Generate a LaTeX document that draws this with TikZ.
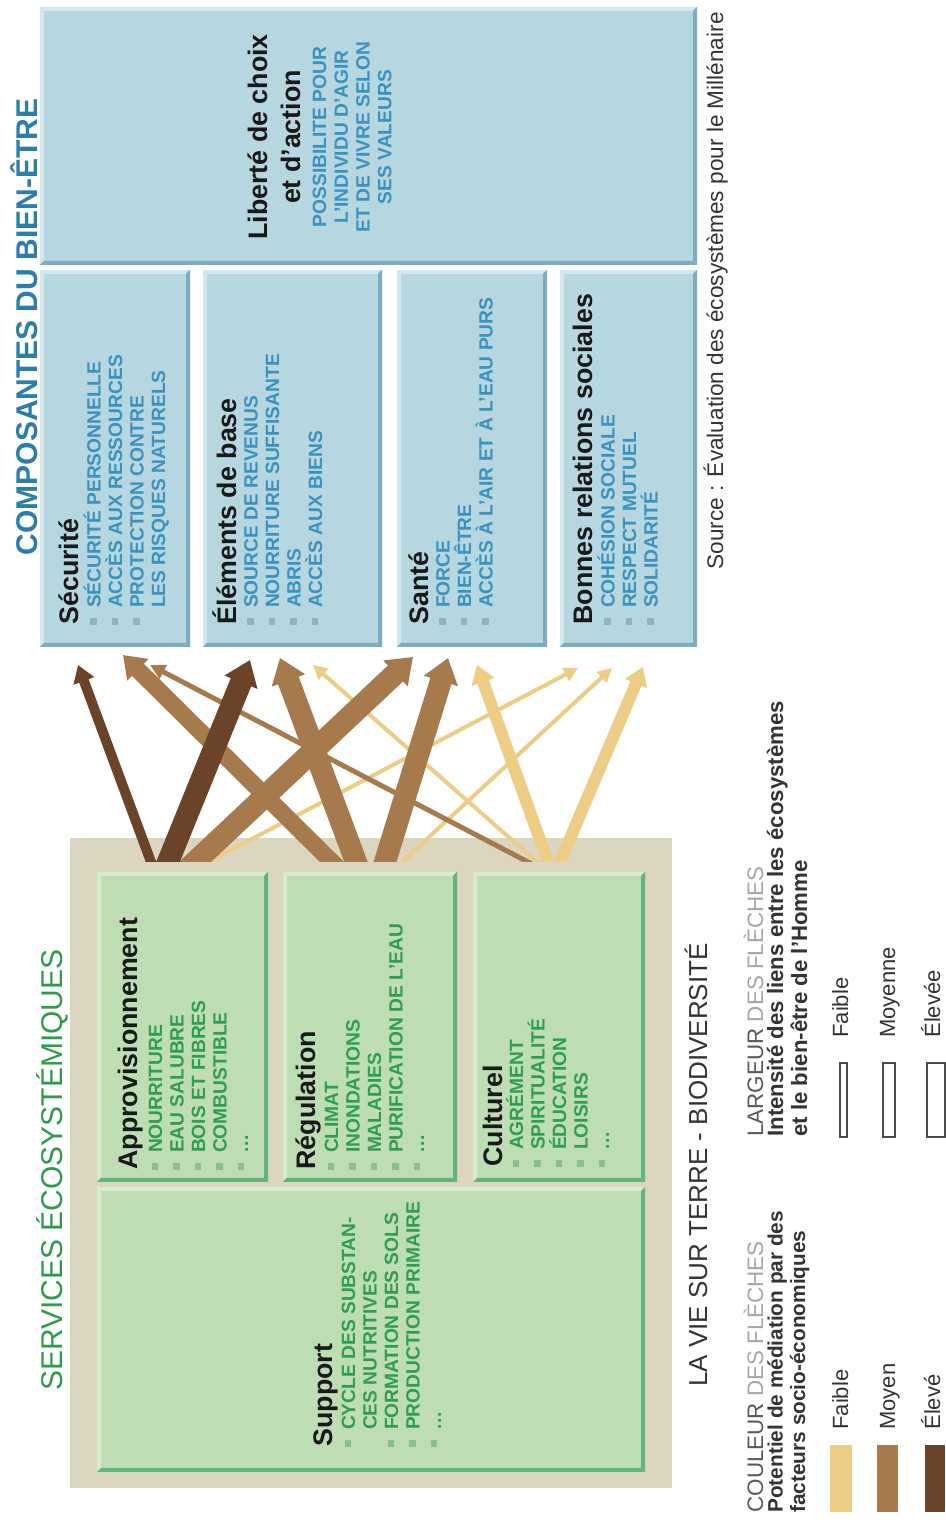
\documentclass[tikz,border=0pt]{standalone}
\usepackage{fontspec}
\setmainfont{Liberation Sans}
\usetikzlibrary{arrows.meta}

\definecolor{bluefill}{HTML}{B6D6E0}
\definecolor{bluelight}{HTML}{D3E7ED}
\definecolor{bluedark}{HTML}{7DACC2}
\definecolor{bluetext}{HTML}{3A92BE}
\definecolor{bluetitle}{HTML}{2B7DAC}
\definecolor{bluebullet}{HTML}{8DB4C6}
\definecolor{greenfill}{HTML}{BEDDB5}
\definecolor{greenlight}{HTML}{D5ECCE}
\definecolor{greendark}{HTML}{62B47F}
\definecolor{greentext}{HTML}{2F9E4F}
\definecolor{greentitle}{HTML}{2E9A4A}
\definecolor{greenbullet}{HTML}{8CBF8E}
\definecolor{beige}{HTML}{DCD6C0}
\definecolor{arrlight}{HTML}{EDCD86}
\definecolor{arrmed}{HTML}{A67A4C}
\definecolor{arrdark}{HTML}{6A4328}
\definecolor{legtext}{HTML}{333333}

% bullets for the item lists
\newcommand\bb{{\color{bluebullet}\raisebox{1.9pt}{\rule{3.3pt}{3.3pt}}}\hspace{5pt}}
\newcommand\gb{{\color{greenbullet}\raisebox{1.9pt}{\rule{3.3pt}{3.3pt}}}\hspace{5pt}}
\newcommand\nb{\hspace{8.3pt}}
\newcommand\suite{.\kern0.4pt.\kern0.4pt.}

\tikzset{
  panel/.style={draw=none, inner sep=0pt, outer sep=0pt},
  ttl/.style={font=\fontsize{13.4}{15}\selectfont\bfseries, text=black!90, inner sep=0pt, anchor=base west},
  bitem/.style={font=\fontsize{9.6}{11}\selectfont\bfseries, text=bluetext, inner sep=0pt, anchor=base west},
  gitem/.style={font=\fontsize{9.6}{11}\selectfont\bfseries, text=greentext, inner sep=0pt, anchor=base west},
  bigtitle/.style={font=\fontsize{15}{17}\selectfont, inner sep=0pt, anchor=base},
  leghead/.style={font=\fontsize{11.2}{13}\selectfont, text=black!65, inner sep=0pt, anchor=base west},
  legsubl/.style={font=\fontsize{10.4}{12}\selectfont\bfseries, text=legtext, inner sep=0pt, anchor=base west},
  legsubr/.style={font=\fontsize{11.1}{13}\selectfont\bfseries, text=legtext, inner sep=0pt, anchor=base west},
  leglab/.style={font=\fontsize{11}{13}\selectfont, text=legtext, inner sep=0pt, anchor=base west},
  wthin/.style={line width=2pt, shorten <=-8pt, -{Triangle[width=7pt,length=7pt]}},
  wfine/.style={line width=2.5pt, shorten <=-8pt, -{Triangle[width=7.5pt,length=7.5pt]}},
  wmid/.style={line width=5pt, shorten <=-8pt, -{Triangle[width=10.5pt,length=8.5pt]}},
  wmidl/.style={line width=6pt, shorten <=-8pt, -{Triangle[width=11.5pt,length=9pt]}},
  wbig/.style={line width=8.5pt, shorten <=-8pt, -{Triangle[width=14.5pt,length=10.5pt]}},
  wwide/.style={line width=11pt, shorten <=-8pt, -{Triangle[width=17pt,length=12pt]}}
}

% panel with bevelled edges: name, fill, light edge, dark edge, x1, y1, x2, y2
\newcommand\panel[8]{%
  \node[panel, fill=#2, minimum width={(#7-(#5))*0.5pt}, minimum height={(#8-(#6))*0.5pt}] (#1) at ({(#5+#7)/2},{(#6+#8)/2}) {};
  \fill[#3] (#5,#8) -- (#7,#8) -- ({#7-4},{#8-4}) -- ({#5+4},{#8-4}) -- cycle;
  \fill[#3] (#7,#8) -- (#7,#6) -- ({#7-4},{#6+4}) -- ({#7-4},{#8-4}) -- cycle;
  \fill[#4] (#5,#6) -- (#7,#6) -- ({#7-4},{#6+4}) -- ({#5+4},{#6+4}) -- cycle;
  \fill[#4] (#5,#6) -- (#5,#8) -- ({#5+4},{#8-4}) -- ({#5+4},{#6+4}) -- cycle;
}

% item list: name prefix, style, x, first baseline depth, items
\newcommand\itemlist[5]{%
  \foreach \txt [count=\i] in {#5}{
    \node[#2] (#1-\i) at (#3,{-(#4+(\i-1)*21.5)}) {\txt};
  }%
}

\begin{document}
\begin{tikzpicture}[x=0.5pt,y=0.5pt]
\begin{scope}[rotate=90, transform shape]
\useasboundingbox (0,-946) rectangle (1538,0);
\fill[white] (0,-946) rectangle (1538,0);

% ---------- titles ----------
\node[bigtitle, text=greentitle] (svctitle) at (368,-62) {SERVICES ÉCOSYSTÉMIQUES};
\node[bigtitle, text=bluetitle, font=\fontsize{15}{17}\selectfont\bfseries] (wbtitle) at (1211,-37) {COMPOSANTES DU BIEN-ÊTRE};

% ---------- ecosystem services ----------
\node[panel, fill=beige, minimum width={650*0.5pt}, minimum height={602*0.5pt}] (life) at (375,-371) {};
\panel{appr}{greenfill}{greenlight}{greendark}{356}{-268}{666}{-97}
\panel{regu}{greenfill}{greenlight}{greendark}{356}{-457}{666}{-283}
\panel{cult}{greenfill}{greenlight}{greendark}{356}{-645}{666}{-473}
\panel{supp}{greenfill}{greenlight}{greendark}{66}{-645}{351}{-97}

\node[ttl] (apprT) at (368,-137) {Approvisionnement};
\itemlist{appr}{gitem}{368}{162}{\gb NOURRITURE, \gb EAU SALUBRE, \gb BOIS ET FIBRES, \gb COMBUSTIBLE, \gb\suite}
\node[ttl] (reguT) at (368,-315) {Régulation};
\itemlist{regu}{gitem}{368}{338}{\gb CLIMAT, \gb INONDATIONS, \gb MALADIES, \gb PURIFICATION DE L'EAU, \gb\suite}
\node[ttl] (cultT) at (371,-502) {Culturel};
\itemlist{cult}{gitem}{371}{523}{\gb AGRÉMENT, \gb SPIRITUALITÉ, \gb ÉDUCATION, \gb LOISIRS, \gb\suite}
\node[ttl] (suppT) at (91,-332) {Support};
\itemlist{supp}{gitem}{91}{355}{\gb CYCLE DES SUBSTAN-, \nb CES NUTRITIVES, \gb FORMATION DES SOLS, \gb PRODUCTION PRIMAIRE, \gb\suite}

% ---------- constituents of well-being ----------
\panel{libe}{bluefill}{bluelight}{bluedark}{1273}{-697}{1531}{-40}
\panel{secu}{bluefill}{bluelight}{bluedark}{891}{-190}{1268}{-40}
\panel{elem}{bluefill}{bluelight}{bluedark}{891}{-382}{1268}{-203}
\panel{sant}{bluefill}{bluelight}{bluedark}{891}{-547}{1268}{-397}
\panel{bonn}{bluefill}{bluelight}{bluedark}{891}{-697}{1268}{-560}

\node[ttl] (secuT) at (913,-78) {Sécurité};
\itemlist{secu}{bitem}{913}{100.5}{\bb SÉCURITÉ PERSONNELLE, \bb ACCÈS AUX RESSOURCES, \bb PROTECTION CONTRE, \nb LES RISQUES NATURELS}
\node[ttl] (elemT) at (913,-236) {Éléments de base};
\itemlist{elem}{bitem}{913}{257.5}{\bb SOURCE DE REVENUS, \bb NOURRITURE SUFFISANTE, \bb ABRIS, \bb ACCÈS AUX BIENS}
\node[ttl] (santT) at (913,-428) {Santé};
\itemlist{sant}{bitem}{913}{449.5}{\bb FORCE, \bb BIEN-ÊTRE, \bb ACCÈS À L'AIR ET À L'EAU PURS}
\node[ttl] (bonnT) at (913,-592) {Bonnes relations sociales};
\itemlist{bonn}{bitem}{913}{614.5}{\bb COHÉSION SOCIALE, \bb RESPECT MUTUEL, \bb SOLIDARITÉ}

\node[ttl, anchor=base] (libeT1) at (1401,-267) {Liberté de choix};
\node[ttl, anchor=base] (libeT2) at (1401,-300) {et d'action};
\foreach \txt [count=\i] in {POSSIBILITE POUR, L'INDIVIDU D'AGIR, ET DE VIVRE SELON, SES VALEURS}{
  \node[bitem, anchor=base] (libe-\i) at (1401,{-(326+(\i-1)*21.8)}) {\txt};
}

% ---------- links ----------
\coordinate (sA1) at (676,-151);  \coordinate (tA1) at (873,-78);
\coordinate (sR1) at (676,-332);  \coordinate (tR1) at (883,-123);
\coordinate (sC1) at (676,-528);  \coordinate (tC1) at (873,-150);
\coordinate (sA2) at (676,-168);  \coordinate (tA2) at (878,-250);
\coordinate (sR2) at (676,-356);  \coordinate (tR2) at (880,-280);
\coordinate (sC2) at (676,-537);  \coordinate (tC2) at (873,-313);
\coordinate (sA3) at (676,-195);  \coordinate (tA3) at (881,-413);
\coordinate (sR3) at (676,-385);  \coordinate (tR3) at (880,-448);
\coordinate (sC3) at (676,-548);  \coordinate (tC3) at (873,-477);
\coordinate (sA4) at (676,-208);  \coordinate (tA4) at (870,-578);
\coordinate (sR4) at (676,-402);  \coordinate (tR4) at (870,-612);
\coordinate (sC4) at (676,-560);  \coordinate (tC4) at (871,-643);

\begin{scope}
  \clip (676,-946) rectangle (1538,0);
  % low mediation
  \draw[arrlight, wthin] (sA4) -- (tA4);
  \draw[arrlight, wthin] (sR4) -- (tR4);
  \draw[arrlight, wthin] (sC2) -- (tC2);
  \draw[arrlight, wmidl] (sC3) -- (tC3);
  \draw[arrlight, wmidl] (sC4) -- (tC4);
  % medium mediation
  \draw[arrmed, wfine] (sC1) -- (tC1);
  \draw[arrmed, wbig] (sR1) -- (tR1);
  \draw[arrmed, wwide] (sR2) -- (tR2);
  \draw[arrmed, wwide] (sA3) -- (tA3);
  \draw[arrmed, wwide] (sR3) -- (tR3);
  % high mediation
  \draw[arrdark, wmid] (sA1) -- (tA1);
  \draw[arrdark, wwide] (sA2) -- (tA2);
\end{scope}

% ---------- base line and source ----------
\node[bigtitle, font=\fontsize{13}{15}\selectfont, text=legtext] (earth) at (373,-707) {LA VIE SUR TERRE - BIODIVERSITÉ};
\node[leglab, font=\fontsize{11.3}{13}\selectfont] (source) at (968,-723) {Source : Évaluation des écosystèmes pour le Millénaire};

% ---------- legend: colour ----------
\node[leghead] (colhead) at (25,-763) {COULEUR {\color{black!35}DES FLÈCHES}};
\node[legsubl] (colsub1) at (25,-782.5) {Potentiel de médiation par des};
\node[legsubl] (colsub2) at (25,-805) {facteurs socio-économiques};
\node[panel, fill=arrlight, minimum width={67*0.5pt}, minimum height={22*0.5pt}] (swlow) at (59.5,-841) {};
\node[panel, fill=arrmed, minimum width={67*0.5pt}, minimum height={21*0.5pt}] (swmed) at (59.5,-887.5) {};
\node[panel, fill=arrdark, minimum width={67*0.5pt}, minimum height={20*0.5pt}] (swhigh) at (59.5,-935) {};
\node[leglab] (collow) at (108,-848) {Faible};
\node[leglab] (colmed) at (108,-895) {Moyen};
\node[leglab] (colhigh) at (108,-940) {Élevé};

% ---------- legend: width ----------
\node[leghead] (widhead) at (401,-763) {LARGEUR {\color{black!35}DES FLÈCHES}};
\node[legsubr] (widsub1) at (401,-783) {Intensité des liens entre les écosystèmes};
\node[legsubr] (widsub2) at (401,-807) {et le bien-être de l'Homme};
\node[panel, draw=black!70, line width=0.6pt, minimum width={74*0.5pt}, minimum height={7*0.5pt}] (wlow) at (438,-843.5) {};
\node[panel, draw=black!70, line width=0.6pt, minimum width={74*0.5pt}, minimum height={12*0.5pt}] (wmed) at (438,-889) {};
\node[panel, draw=black!70, line width=0.6pt, minimum width={74*0.5pt}, minimum height={18*0.5pt}] (whigh) at (438,-936) {};
\node[leglab] (widlow) at (500,-848) {Faible};
\node[leglab] (widmed) at (500,-895) {Moyenne};
\node[leglab] (widhigh) at (500,-940) {Élevée};
\end{scope}
\end{tikzpicture}
\end{document}
